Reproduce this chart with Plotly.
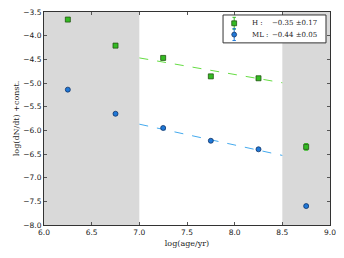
import plotly.graph_objects as go

age = [6.25, 6.75, 7.25, 7.75, 8.25, 8.75]
h_vals = [-3.66, -4.21, -4.47, -4.86, -4.90, -6.35]
h_err = [0.04, 0.04, 0.03, 0.03, 0.03, 0.07]
ml_vals = [-5.14, -5.65, -5.95, -6.22, -6.40, -7.60]
ml_err = [0.02, 0.02, 0.02, 0.02, 0.02, 0.03]

fit_x = [7.0, 8.5]
h_slope, h_int7 = -0.35, -4.47
ml_slope, ml_int7 = -0.44, -5.87
h_fit = [h_int7 + h_slope * (x - 7.0) for x in fit_x]
ml_fit = [ml_int7 + ml_slope * (x - 7.0) for x in fit_x]

shaded = [(6.0, 7.0), (8.5, 9.0)]

legend_labels = ["H :", "ML :"]
legend_values = ["−0.35 ±0.17", "−0.44 ±0.05"]

H_COLOR, H_EDGE = "#33bb22", "#225511"
ML_COLOR, ML_EDGE = "#1f78d8", "#113366"

fig = go.Figure()

fig.add_trace(go.Scatter(x=fit_x, y=h_fit, mode="lines", line=dict(color="#66dd44", dash="dash", width=1), showlegend=False, hoverinfo="skip"))
fig.add_trace(go.Scatter(x=fit_x, y=ml_fit, mode="lines", line=dict(color="#44aaee", dash="dash", width=1), showlegend=False, hoverinfo="skip"))

fig.add_trace(go.Scatter(
    x=age, y=h_vals, mode="markers", name="H", showlegend=False,
    marker=dict(symbol="square", size=5, color=H_COLOR, line=dict(color=H_EDGE, width=0.8)),
    error_y=dict(type="data", array=h_err, color=H_COLOR, thickness=1, width=2),
))
fig.add_trace(go.Scatter(
    x=age, y=ml_vals, mode="markers", name="ML", showlegend=False,
    marker=dict(symbol="circle", size=5, color=ML_COLOR, line=dict(color=ML_EDGE, width=0.8)),
    error_y=dict(type="data", array=ml_err, color=ML_COLOR, thickness=1, width=2),
))

for x0, x1 in shaded:
    fig.add_shape(type="rect", x0=x0, x1=x1, y0=0, y1=1, xref="x", yref="paper",
                  fillcolor="#d9d9d9", line=dict(width=0), layer="below")

# manual legend box (paper coordinates)
fig.add_shape(type="rect", xref="paper", yref="paper", x0=0.626, x1=0.986, y0=0.855, y1=0.986,
              fillcolor="white", line=dict(color="#333", width=1))
rows_y = [0.947, 0.894]
mx = 0.665
dx, dy = 0.0085, 0.0115
styles = [("square", H_COLOR, H_EDGE), ("circle", ML_COLOR, ML_EDGE)]
for (kind, col, edge), yy, lab, val in zip(styles, rows_y, legend_labels, legend_values):
    fig.add_shape(type="line", xref="paper", yref="paper", x0=mx, x1=mx, y0=yy - 0.028, y1=yy + 0.028,
                  line=dict(color=col, width=1))
    for ey in (yy - 0.028, yy + 0.028):
        fig.add_shape(type="line", xref="paper", yref="paper", x0=mx - 0.006, x1=mx + 0.006, y0=ey, y1=ey,
                      line=dict(color=col, width=1))
    fig.add_shape(type="rect" if kind == "square" else "circle", xref="paper", yref="paper",
                  x0=mx - dx, x1=mx + dx, y0=yy - dy, y1=yy + dy,
                  fillcolor=col, line=dict(color=edge, width=0.8))
    fig.add_annotation(xref="paper", yref="paper", x=0.720, y=yy, text=lab, showarrow=False,
                       xanchor="left", yanchor="middle",
                       font=dict(family="DejaVu Serif", size=7, color="#222"))
    fig.add_annotation(xref="paper", yref="paper", x=0.962, y=yy, text=val, showarrow=False,
                       xanchor="right", yanchor="middle",
                       font=dict(family="DejaVu Serif", size=7, color="#222"))

axis_common = dict(showgrid=False, zeroline=False, ticks="inside", ticklen=3, tickwidth=1,
                   tickcolor="#555", mirror="ticks", showline=True, linecolor="#333", linewidth=1,
                   automargin=False, ticklabeloverflow="allow",
                   tickfont=dict(family="DejaVu Sans", size=7.5, color="#222"))

fig.update_xaxes(range=[6.0, 9.0], dtick=0.5, tickformat=".1f",
                 title=dict(text="log(age/yr)", font=dict(family="DejaVu Serif", size=8, color="#222"), standoff=4),
                 **axis_common)
fig.update_yaxes(range=[-8.0, -3.5], dtick=0.5, tickformat=".1f",
                 title=dict(text="log(dN/dt) +const.", font=dict(family="DejaVu Serif", size=8, color="#222"), standoff=2),
                 **axis_common)

fig.update_layout(
    width=328, height=242,
    margin=dict(l=36, r=6, t=4, b=25),
    plot_bgcolor="white", paper_bgcolor="white",
    showlegend=False,
)

fig.write_html("out.html")
